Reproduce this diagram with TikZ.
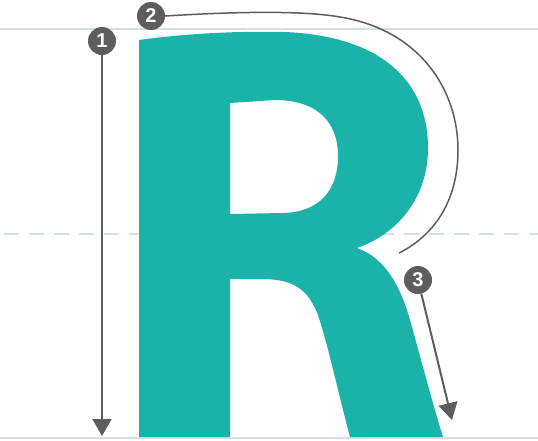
\documentclass[tikz,border=0pt]{standalone}
\usepackage{fontspec}
\newfontfamily\markfont{Liberation Sans}
\usetikzlibrary{arrows.meta}

\definecolor{letterteal}{HTML}{1BB3A9}
\definecolor{guidegray}{HTML}{D3E2DF}
\definecolor{markgray}{HTML}{5E5C5F}

\tikzset{
  guide/.style={guidegray, line width=2pt},
  marker/.style={circle, fill=markgray, minimum size=28pt, inner sep=0pt,
    text=white, font=\markfont\bfseries\fontsize{20}{20}\selectfont},
  pointer/.style={markgray, line width=2pt, -{Triangle[length=17pt, width=19pt]}}
}

\begin{document}
\begin{tikzpicture}[x=1pt, y=-1pt]
    \useasboundingbox (0,0) rectangle (538,440);

    % guide lines
    \draw[guide] (0,29) -- (538,29);
    \draw[guide, dash pattern=on 15pt off 10pt] (4,234) -- (538,234);
    \draw[guide] (0,438) -- (538,438);

    % the letter R, with its counter cut out
    \fill[letterteal, even odd rule]
        (139,40) .. controls (190,33) and (240,31) .. (285,32)
        .. controls (380,36) and (428,80) .. (428,148)
        .. controls (428,200) and (395,235) .. (357,248)
        .. controls (385,258) and (400,285) .. (410,320)
        .. controls (420,355) and (430,395) .. (443,437)
        -- (350,437)
        .. controls (338,392) and (328,345) .. (318,315)
        .. controls (308,290) and (295,280) .. (265,279)
        -- (230,279) -- (230,437) -- (139,437) -- cycle
        (230,103) -- (230,214) -- (283,213)
        .. controls (320,212) and (338,190) .. (338,156)
        .. controls (338,120) and (315,100) .. (275,100) -- cycle;

    % numbered markers
    \node[marker] (m1) at (102,41) {1};
    \node[marker] (m2) at (151,16) {2};
    \node[marker] (m3) at (418,280) {3};

    \coordinate (e1) at (102,436);
    \coordinate (e3) at (452,420);

    % stroke 1: the stem, straight down
    \draw[pointer] (m1) -- (e1);
    % stroke 2: round the bowl
    \draw[markgray, line width=1.5pt]
        (m2.east) .. controls (230,12) and (300,10) .. (340,17)
        .. controls (420,30) and (458,90) .. (458,150)
        .. controls (458,200) and (435,235) .. (399,253);
    % stroke 3: the leg
    \draw[pointer] (m3) -- (e3);
\end{tikzpicture}
\end{document}
